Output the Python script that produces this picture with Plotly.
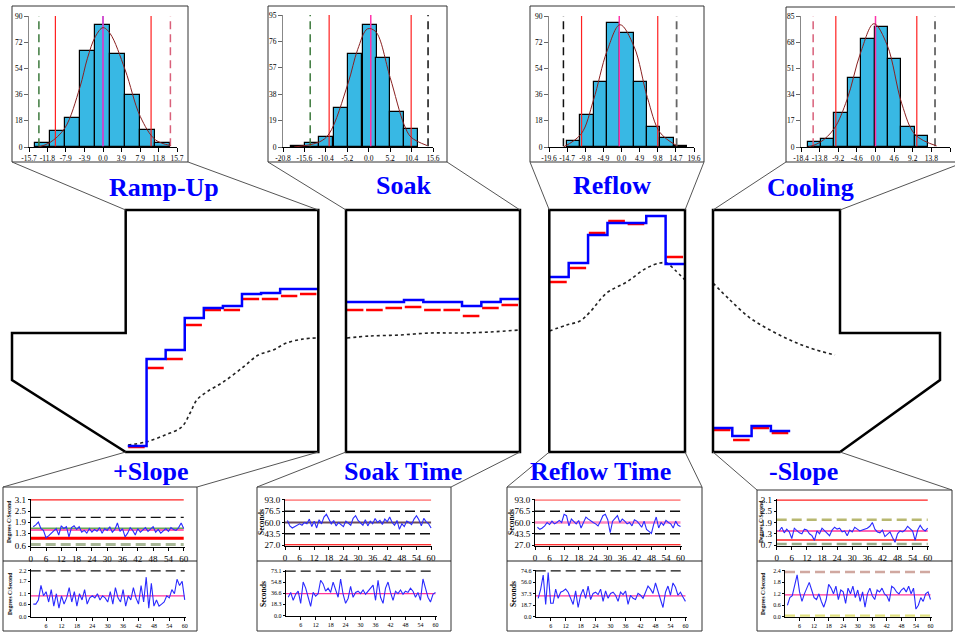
import plotly.graph_objects as go

W, H = 955, 633
SERIF = "Liberation Serif"

# ---------------- histogram data (deviation from target) ----------------
ramp_hist_x = [-12.9, -9.7, -6.5, -3.3, -0.1, 3.1, 6.3, 9.5, 12.7]
ramp_hist_n = [3, 11, 20, 66, 84, 64, 36, 12, 3]
ramp_fit_x = [-13.7, -11.3, -8.1, -4.9, -3.3, -1.6, 0.0, 1.5, 4.7, 7.9, 11.1, 14.3]
ramp_fit_y = [0, 3, 13, 41, 61, 76, 82, 78, 53, 21, 5, 1]
ramp_hist_lines = [-13.6, -10.1, 0.0, 10.2, 14.3]
ramp_hist_xticks = [-15.7, -11.8, -7.9, -3.9, 0.0, 3.9, 7.9, 11.8, 15.7]
ramp_hist_yticks = [0, 18, 36, 54, 72, 90]

soak_hist_x = [-17.15, -13.7, -10.25, -6.75, -3.25, 0.2, 3.55, 6.9, 10.3]
soak_hist_n = [1, 3, 7, 28, 67, 88, 64, 25, 13]
soak_fit_x = [-18.1, -12.0, -9.6, -5.0, -2.7, -0.3, 1.7, 5.2, 8.6, 10.3, 14.2]
soak_fit_y = [0, 3.6, 9.6, 46, 70, 85, 83, 50, 16, 7, 1]
soak_hist_lines = [-14.2, -9.6, 0.5, 10.3, 14.4]
soak_hist_xticks = [-20.8, -15.6, -10.4, -5.2, 0.0, 5.2, 10.4, 15.6]
soak_hist_yticks = [0, 19, 38, 57, 76, 95]

reflow_hist_x = [-12.99, -9.37, -5.75, -2.13, 1.49, 5.11, 8.73, 12.35, 15.97]
reflow_hist_n = [4, 22, 45, 85, 78, 45, 14, 6, 1]
reflow_fit_x = [-15.7, -10.9, -7.6, -3.9, -0.4, 3.4, 7.0, 10.4, 14.9]
reflow_fit_y = [0, 9, 32, 66, 84, 69, 34, 10, 1]
reflow_hist_lines = [-15.7, -10.8, -0.6, 9.8, 14.9]
reflow_hist_xticks = [-19.6, -14.7, -9.8, -4.9, 0.0, 4.9, 9.8, 14.7, 19.6]
reflow_hist_yticks = [0, 18, 36, 54, 72, 90]

cool_hist_x = [-15.14, -11.83, -8.52, -5.21, -1.9, 1.41, 4.72, 8.03, 11.34]
cool_hist_n = [3, 5, 22, 45, 70, 78, 57, 13, 7]
cool_fit_x = [-16.6, -13.7, -10.2, -7.0, -3.7, -0.4, 2.9, 6.5, 9.8, 15.1]
cool_fit_y = [0, 3, 12, 31, 61, 80, 66, 28, 8, 0.7]
cool_hist_lines = [-15.4, -9.8, 0.0, 10.2, 14.7]
cool_hist_xticks = [-18.4, -13.8, -9.2, -4.6, 0.0, 4.6, 9.2, 13.8, 18.4]
cool_hist_yticks = [0, 17, 34, 51, 68, 85]

# ---------------- oven zone data (relative temperature) ----------------
ramp_zone_set = [6, 93, 102, 134, 144, 146, 158, 159, 163, 163]
ramp_zone_meas = [5, 84, 93, 127, 142, 142, 153, 153, 156, 158]
ramp_prof_x = [0.03, 0.95, 1.97, 2.84, 3.28, 3.63, 4.15, 5.02, 6.07, 6.86, 7.64, 8.34, 9.21, 9.92]
ramp_prof_y = [7, 10, 17, 25, 39, 52, 60, 70, 85, 97, 102, 109, 113, 114]

soak_zone_set = [150, 150, 150, 152, 150, 150, 146, 150, 153]
soak_zone_meas = [142, 142, 144, 145, 142, 142, 136, 144, 147]
soak_prof_x = [0.05, 1.24, 2.79, 4.35, 5.9, 7.45, 8.95]
soak_prof_y = [114, 116, 117, 119, 119, 120, 122]

reflow_zone_set = [175, 189, 217, 229, 229, 236, 188]
reflow_zone_meas = [170, 184, 219, 231, 228, None, 195]
reflow_prof_x = [0.0, 0.9, 1.58, 2.1, 2.96, 3.99, 5.02, 5.71, 6.05, 6.48, 7.0]
reflow_prof_y = [121, 127, 131, 140, 159, 170, 184, 189, 189, 182, 172]

cool_zone_set = [24, 16, 26, 21]
cool_zone_meas = [22, 12, 24, 19]
cool_prof_x = [0.0, 0.88, 1.92, 2.95, 3.99, 5.03, 6.32]
cool_prof_y = [169, 152, 134, 122, 112, 104, 97]

# ---------------- control chart data ----------------
runs = list(range(1, 61))
pslope_vals = [1.65, 1.75, 1.90, 1.55, 1.45, 1.05, 1.15, 1.30, 1.40, 1.55, 1.20, 1.70, 1.55, 1.65, 1.10,
               1.60, 1.70, 1.50, 1.65, 1.35, 1.45, 1.30, 1.55, 1.35, 1.50, 1.40, 1.60, 1.30, 1.55, 1.45,
               1.65, 1.35, 1.50, 1.85, 1.40, 1.55, 1.10, 1.30, 1.60, 1.45, 1.20, 1.55, 1.35, 1.50, 1.60,
               1.40, 1.55, 1.65, 1.35, 1.50, 1.30, 1.45, 1.55, 1.40, 1.60, 1.50, 1.45, 1.60, 1.85, 1.55]
pslope_mr = [0.6, 0.6, 0.8, 1.5, 1.0, 1.2, 0.7, 1.3, 0.5, 1.1, 0.4, 1.0, 0.6, 0.9, 1.4, 0.7, 1.2, 0.5, 1.1, 0.8,
             1.3, 0.6, 0.9, 1.0, 0.9, 1.1, 0.8, 1.0, 0.9, 0.7, 1.2, 0.6, 1.4, 0.9, 0.7, 1.3, 0.5, 1.0, 0.8, 1.4,
             0.9, 0.6, 1.5, 0.7, 1.9, 0.4, 1.6, 0.5, 0.8, 0.5, 0.6, 0.7, 1.0, 0.9, 1.3, 1.1, 1.8, 1.5, 1.7, 0.8]
soakt_vals = [63, 55, 52, 54, 57, 58, 56, 60, 58, 65, 54, 62, 52, 64, 58, 68, 72, 65, 58, 63,
              55, 60, 57, 54, 62, 59, 56, 66, 70, 63, 60, 56, 64, 55, 62, 58, 66, 60, 63, 57,
              65, 61, 68, 60, 56, 63, 50, 58, 54, 62, 60, 57, 65, 70, 64, 55, 66, 61, 58, 52]
soakt_mr = [30, 38, 25, 35, 40, 20, 55, 45, 30, 15, 38, 32, 36, 58, 52, 40, 45, 38, 55, 42,
            30, 60, 35, 20, 28, 48, 30, 38, 40, 36, 42, 35, 40, 45, 50, 25, 58, 30, 20, 45,
            55, 38, 25, 40, 36, 42, 35, 40, 38, 45, 40, 30, 38, 25, 60, 45, 30, 22, 35, 38]
reflowt_vals = [53, 50, 52, 55, 60, 57, 62, 58, 60, 63, 60, 72, 70, 55, 65, 62, 58, 63, 52, 60,
                68, 65, 62, 60, 58, 55, 62, 70, 72, 64, 45, 62, 66, 70, 60, 65, 62, 58, 60, 55,
                64, 62, 58, 53, 62, 50, 47, 44, 58, 68, 52, 60, 56, 63, 60, 58, 52, 62, 56, 54]
reflowt_mr = [30, 45, 68, 20, 72, 22, 22, 45, 30, 40, 42, 45, 40, 30, 20, 42, 15, 35, 45, 30,
              50, 28, 38, 40, 36, 45, 25, 42, 30, 38, 40, 35, 25, 40, 36, 42, 20, 35, 30, 28,
              38, 35, 30, 40, 50, 45, 38, 55, 40, 28, 15, 40, 50, 35, 55, 48, 35, 40, 32, 25]
nslope_vals = [1.45, 1.65, 1.35, 1.55, 1.40, 1.05, 1.60, 1.45, 1.35, 1.30, 1.55, 1.50, 1.30, 1.20, 0.95,
               1.45, 1.30, 1.60, 1.45, 1.35, 1.20, 1.50, 1.65, 1.55, 1.60, 1.40, 1.45, 1.20, 1.50, 1.40,
               1.65, 1.55, 1.45, 1.50, 1.55, 1.60, 1.70, 1.90, 1.55, 1.40, 1.35, 1.50, 1.15, 1.30, 1.40,
               1.10, 0.85, 1.30, 1.45, 1.40, 1.50, 1.70, 1.55, 1.45, 0.95, 1.50, 1.75, 1.55, 1.45, 1.60]
nslope_mr = [0.6, 1.0, 1.1, 1.6, 2.2, 1.3, 0.8, 1.2, 1.5, 1.8, 1.4, 1.0, 0.9, 1.2, 0.8, 0.5, 0.9, 1.7, 1.5, 1.2,
             1.6, 0.9, 1.4, 1.3, 0.7, 1.5, 1.2, 1.6, 1.0, 1.4, 0.8, 1.3, 0.5, 1.2, 1.5, 1.1, 0.9, 1.4, 1.3, 1.5,
             1.2, 1.1, 0.8, 1.6, 1.5, 1.3, 1.2, 1.4, 1.5, 1.3, 1.6, 1.2, 1.5, 0.4, 0.6, 1.0, 0.8, 1.2, 1.3, 0.9]

pslope_limits = [3.1, 2.16, 1.56, 1.47, 1.02, 0.69]
pslope_mr_limits = [2.2, 1.0]
soakt_limits = [93.0, 76.5, 60.0, 43.5, 27.4]
soakt_mr_limits = [73.1, 36.0]
reflowt_limits = [93.0, 76.5, 60.0, 43.5, 27.4]
reflowt_mr_limits = [74.6, 34.0]
nslope_limits = [3.1, 2.05, 1.45, 0.97, 0.76]
nslope_mr_limits = [2.35, 1.14, 0.05]

pslope_yticks = [0.6, 1.3, 1.9, 2.5, 3.1]
secs_yticks = [27.0, 43.5, 60.0, 76.5, 93.0]
nslope_yticks = [0.7, 1.3, 1.9, 2.5, 3.1]
pslope_mr_ticks = [0.0, 0.6, 1.1, 1.7, 2.2]
soakt_mr_ticks = [0.0, 18.3, 36.6, 54.8, 73.1]
reflowt_mr_ticks = [0.0, 18.7, 37.3, 56.0, 74.6]
nslope_mr_ticks = [0.0, 0.6, 1.2, 1.8, 2.4]
run_ticks = [0, 6, 12, 18, 24, 30, 36, 42, 48, 54, 60]

# ---------------- helpers ----------------
fig = go.Figure()
layout = {}
shapes = []
annotations = []


def px(x):
    return x / W


def py(y):
    return 1 - y / H


def names(n):
    return ("x" if n == 1 else f"x{n}"), ("y" if n == 1 else f"y{n}"), \
           ("xaxis" if n == 1 else f"xaxis{n}"), ("yaxis" if n == 1 else f"yaxis{n}")


def set_axes(n, x0, x1, ytop, ybot, xr, yr, xopts=None, yopts=None):
    xr_, yr_, xk, yk = names(n)
    base = dict(showgrid=False, zeroline=False, fixedrange=True, automargin=False, tickangle=0)
    xa = dict(base, domain=[px(x0), px(x1)], range=xr, anchor=yr_)
    ya = dict(base, domain=[py(ybot), py(ytop)], range=yr, anchor=xr_)
    if xopts:
        xa.update(xopts)
    else:
        xa.update(visible=False)
    if yopts:
        ya.update(yopts)
    else:
        ya.update(visible=False)
    layout[xk] = xa
    layout[yk] = ya


def line(x0, y0, x1, y1, color="#444", width=1):
    shapes.append(dict(type="line", xref="paper", yref="paper", x0=px(x0), y0=py(y0),
                       x1=px(x1), y1=py(y1), line=dict(color=color, width=width)))


def poly(points, width=2.5):
    d = "M " + " L ".join(f"{px(a):.5f},{py(b):.5f}" for a, b in points) + " Z"
    shapes.append(dict(type="path", xref="paper", yref="paper", path=d,
                       line=dict(color="black", width=width)))


def rect(x0, y0, x1, y1, color="#333", width=1):
    shapes.append(dict(type="rect", xref="paper", yref="paper", x0=px(x0), y0=py(y1),
                       x1=px(x1), y1=py(y0), line=dict(color=color, width=width)))


def text(x, y, s, size, color="black", bold=False, angle=0):
    annotations.append(dict(x=px(x), y=py(y), xref="paper", yref="paper", showarrow=False,
                            xanchor="center", yanchor="middle",
                            text=f"<b>{s}</b>" if bold else s, textangle=angle,
                            font=dict(family=SERIF, size=size, color=color)))


# ---------------- histograms ----------------
GREEN_D = ("#3d7a3d", "8px,5px", 1.5)
PINK_D = ("#d9607a", "8px,5px", 1.5)
BLACK_D = ("#111111", "8px,5px", 1.5)
GRAY_D = ("#666666", "8px,5px", 1.8)
RED = ("#ff2020", "solid", 1.2)
MAG = ("#cc44cc", "solid", 1.8)
MAG2 = ("#ff33aa", "solid", 1.5)

hists = [
    (ramp_hist_x, ramp_hist_n, 3.2, ramp_fit_x, ramp_fit_y, ramp_hist_lines,
     [GREEN_D, RED, MAG, RED, PINK_D], ramp_hist_xticks, ramp_hist_yticks, (29, 177, 16, 147)),
    (soak_hist_x, soak_hist_n, 3.4, soak_fit_x, soak_fit_y, soak_hist_lines,
     [GREEN_D, RED, MAG2, RED, BLACK_D], soak_hist_xticks, soak_hist_yticks, (283, 433, 15, 147)),
    (reflow_hist_x, reflow_hist_n, 3.62, reflow_fit_x, reflow_fit_y, reflow_hist_lines,
     [BLACK_D, RED, MAG2, RED, GRAY_D], reflow_hist_xticks, reflow_hist_yticks, (549, 694, 16, 147)),
    (cool_hist_x, cool_hist_n, 3.31, cool_fit_x, cool_fit_y, cool_hist_lines,
     [PINK_D, RED, MAG2, RED, GRAY_D], cool_hist_xticks, cool_hist_yticks, (801, 950, 16, 147)),
]

for i, (hx, hn, bw, fx, fy, lims, styles, xt, yt, dom) in enumerate(hists):
    n = i + 1
    xr, yr, _, _ = names(n)
    ymax = yt[-1]
    fig.add_trace(go.Bar(x=hx, y=hn, width=bw, xaxis=xr, yaxis=yr,
                         marker=dict(color="#38b8e4", line=dict(color="black", width=1.2))))
    for v, (c, d, w) in zip(lims, styles):
        fig.add_trace(go.Scatter(x=[v, v], y=[0.5, ymax], mode="lines", xaxis=xr, yaxis=yr,
                                 line=dict(color=c, dash=d, width=w)))
    fig.add_trace(go.Scatter(x=fx, y=fy, mode="lines", xaxis=xr, yaxis=yr, line_shape="spline",
                             line=dict(color="#8a2020", width=1)))
    set_axes(n, dom[0], dom[1], dom[2], dom[3], [xt[0], xt[-1]], [0, ymax],
             xopts=dict(showline=True, linecolor="black", linewidth=1.2, ticks="outside", ticklen=4,
                        tickcolor="black", tickvals=xt, ticktext=[f"{v:.1f}" for v in xt],
                        tickfont=dict(family=SERIF, size=7.5, color="black")),
             yopts=dict(showline=True, linecolor="#888", linewidth=1, ticks="outside", ticklen=4,
                        tickcolor="#666", tickvals=yt, ticktext=[str(v) for v in yt],
                        tickfont=dict(family=SERIF, size=7.5, color="black")))

# ---------------- oven panels ----------------
panels = [
    (ramp_zone_set, ramp_zone_meas, ramp_prof_x, ramp_prof_y, (127.5, 318.3), 10),
    (soak_zone_set, soak_zone_meas, soak_prof_x, soak_prof_y, (346, 520), 9),
    (reflow_zone_set, reflow_zone_meas, reflow_prof_x, reflow_prof_y, (549.3, 685), 7),
    (cool_zone_set, cool_zone_meas, cool_prof_x, cool_prof_y, (713, 840), 6.58),
]
for i, (zs, zm, prx, pry, (x0, x1), nz) in enumerate(panels):
    n = 5 + i
    xr, yr, _, _ = names(n)
    fig.add_trace(go.Scatter(x=prx, y=pry, mode="lines", xaxis=xr, yaxis=yr, line_shape="spline",
                             line=dict(color="#222", width=1.6, dash="dot")))
    rx, ry = [], []
    for k, v in enumerate(zm):
        if v is None:
            continue
        rx += [k + 0.04, k + 0.9, None]
        ry += [v, v, None]
    fig.add_trace(go.Scatter(x=rx, y=ry, mode="lines", xaxis=xr, yaxis=yr,
                             line=dict(color="#ff0000", width=2.5)))
    sx = list(range(len(zs) + 1))
    sy = zs + [zs[-1]]
    fig.add_trace(go.Scatter(x=sx, y=sy, mode="lines", line_shape="hv", xaxis=xr, yaxis=yr,
                             line=dict(color="#0000ff", width=2.5)))
    set_axes(n, x0, x1, 210, 452, [0, nz], [0, 242])

# ---------------- control charts ----------------
SOLID_R = ("#ff2020", "solid", 1.2)
BD = ("#111111", "10px,5px", 1.3)
charts = [
    (9, pslope_vals, pslope_limits,
     [SOLID_R, BD, ("#66aa55", "solid", 1.5), ("#ff3399", "solid", 1.5), ("#ff0000", "solid", 3),
      ("#a8b898", "10px,5px", 3)],
     (30.7, 185, 499, 547), [0.55, 3.15], pslope_yticks, "{:.1f}", run_ticks, 9),
    (11, soakt_vals, soakt_limits,
     [SOLID_R, BD, ("#6a4a5a", "solid", 2), BD, ("#ff3030", "solid", 1.5)],
     (285, 432.3, 499.3, 545.7), [26, 94], secs_yticks, "{:.1f}", run_ticks, 9),
    (13, reflowt_vals, reflowt_limits,
     [SOLID_R, BD, ("#ff88c0", "solid", 2.5), BD, ("#ff3030", "solid", 1.5)],
     (535, 681.7, 499.3, 545.7), [26, 94], secs_yticks, "{:.1f}", run_ticks, 9),
    (15, nslope_vals, nslope_limits,
     [SOLID_R, ("#b8b870", "10px,5px", 2.5), ("#ff3399", "solid", 1.5), ("#ff2020", "solid", 1.5),
      ("#99aa88", "10px,5px", 2.5)],
     (776.7, 929, 499.1, 546), [0.65, 3.15], nslope_yticks, "{:.1f}", run_ticks, 9),
    (10, pslope_mr, pslope_mr_limits, [BD, ("#ff3399", "solid", 1.3)],
     (30.7, 186, 568.9, 616.5), [0, 2.3], pslope_mr_ticks, "{:.1f}", run_ticks[1:], 6),
    (12, soakt_mr, soakt_mr_limits, [BD, ("#ff3399", "solid", 1.3)],
     (285.7, 436.7, 569.9, 615.5), [0, 75], soakt_mr_ticks, "{:.1f}", run_ticks[1:], 6),
    (14, reflowt_mr, reflowt_mr_limits, [BD, ("#ff3399", "solid", 1.3)],
     (535.7, 686.7, 570.1, 616.7), [0, 76], reflowt_mr_ticks, "{:.1f}", run_ticks[1:], 6),
    (16, nslope_mr, nslope_mr_limits,
     [("#d0a8a0", "10px,5px", 2.5), ("#ff3399", "solid", 1.3), ("#e0e080", "10px,5px", 2.5)],
     (785, 931.7, 570, 616.7), [0, 2.45], nslope_mr_ticks, "{:.1f}", run_ticks[1:], 6),
]
for (n, vals, lims, styles, dom, yrng, yt, fmt, xt, fsz) in charts:
    xr, yr, _, _ = names(n)
    for v, (c, d, w) in zip(lims, styles):
        fig.add_trace(go.Scatter(x=[0, 60], y=[v, v], mode="lines", xaxis=xr, yaxis=yr,
                                 line=dict(color=c, dash=d, width=w)))
    fig.add_trace(go.Scatter(x=runs, y=vals, mode="lines", xaxis=xr, yaxis=yr,
                             line=dict(color="#2a2aff", width=1.1)))
    set_axes(n, dom[0], dom[1], dom[2], dom[3], [0, 60.5], yrng,
             xopts=dict(showline=True, linecolor="black", linewidth=1, ticks="outside", ticklen=3,
                        tickcolor="black", tickvals=xt, ticktext=[str(v) for v in xt],
                        tickfont=dict(family=SERIF, size=fsz, color="black")),
             yopts=dict(showline=True, linecolor="black", linewidth=1, ticks="outside", ticklen=2,
                        tickcolor="black", tickvals=yt, ticktext=[fmt.format(v) for v in yt],
                        tickfont=dict(family=SERIF, size=fsz, color="black")))

# ---------------- frames, outlines and connectors ----------------
rect(12, 6, 188, 162)
rect(268, 6, 447, 162)
rect(530, 6, 704, 162)
rect(786, 7, 970, 162)
for (x0, x1, y0) in [(3, 197, 487), (257, 451, 487), (507, 702, 487), (757, 952, 490)]:
    rect(x0, y0, x1, 631)
    line(x0, 561, x1, 561, "#222", 1)

poly([(12, 333), (125.7, 333), (125.7, 210), (318.3, 210), (318.3, 452), (125.7, 452), (12, 380)])
poly([(346, 210), (520, 210), (520, 452), (346, 452)])
poly([(549.3, 210), (685, 210), (685, 452), (549.3, 452)])
poly([(713, 210), (840, 210), (840, 333), (940, 333), (940, 380), (840, 452), (713, 452)])

for a, b in [((12, 162), (125.7, 210)), ((188, 162), (318.3, 210)),
             ((268, 162), (346, 210)), ((447, 162), (520, 210)),
             ((530, 162), (549.3, 210)), ((704, 162), (685, 210)),
             ((786, 162), (713, 210)), ((970, 160), (840, 210))]:
    line(a[0], a[1], b[0], b[1], "#555", 1)
for a, b in [((125.7, 452), (3, 487)), ((318.3, 452), (197, 487)),
             ((346, 452), (257, 487)), ((520, 452), (451, 487)),
             ((549.3, 452), (507, 487)), ((685, 452), (702, 487)),
             ((713, 452), (757, 490)), ((840, 452), (952, 490))]:
    line(a[0], a[1], b[0], b[1], "#555", 1)

# ---------------- titles ----------------
BLUE = "#0000ff"
text(164, 187, "Ramp-Up", 26, BLUE, True)
text(403, 186, "Soak", 26, BLUE, True)
text(612, 185, "Reflow", 26, BLUE, True)
text(810, 187, "Cooling", 26, BLUE, True)
text(151, 471, "+Slope", 26, BLUE, True)
text(403, 471, "Soak Time", 26, BLUE, True)
text(600, 471, "Reflow Time", 26, BLUE, True)
text(803, 471, "-Slope", 26, BLUE, True)

text(9, 522, "Degrees C/Second", 5.5, "black", True, -90)
text(10, 594, "Degrees C/Second", 5.5, "black", True, -90)
text(261, 522, "Seconds", 7.5, "black", True, -90)
text(263, 594, "Seconds", 7.5, "black", True, -90)
text(511, 522, "Seconds", 7.5, "black", True, -90)
text(513, 594, "Seconds", 7.5, "black", True, -90)
text(761, 522, "Degrees C/Second", 5.5, "black", True, -90)
text(763, 594, "Degrees C/Second", 5.5, "black", True, -90)

layout.update(width=W, height=H, margin=dict(l=0, r=0, t=0, b=0), showlegend=False,
              paper_bgcolor="white", plot_bgcolor="white", bargap=0, hovermode=False,
              shapes=shapes, annotations=annotations)
fig.update_layout(**layout)
fig.write_html("out.html", config={"displayModeBar": False},
               post_script="document.body.style.margin='0px';document.body.style.overflow='hidden';")
